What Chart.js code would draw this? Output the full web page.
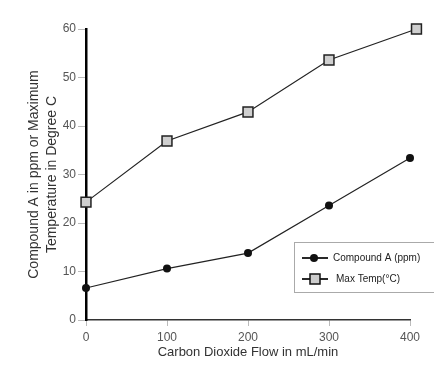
<!DOCTYPE html>
<html>
<head>
<meta charset="utf-8">
<script src="https://cdn.jsdelivr.net/npm/chart.js@4.4.0/dist/chart.umd.min.js"></script>
<style>
  html, body { margin: 0; padding: 0; background: #fff; }
  #wrap { width: 434px; height: 367px; position: relative; }
</style>
</head>
<body>
<div id="wrap"><canvas id="myChart" width="434" height="367"></canvas></div>
<script>
// values
var flowX = [0, 100, 200, 300, 400];
var compoundA = [6.6, 10.6, 13.8, 23.6, 33.4];
var tempX = [0, 100, 200, 300, 408];
var maxTemp = [24.3, 36.9, 42.9, 53.6, 60];
var xTicks = [0, 100, 200, 300, 400];
var yTicks = [0, 10, 20, 30, 40, 50, 60];
var seriesNames = ['Compound A (ppm)', 'Max Temp(\u00B0C)'];

const FONT = "'Liberation Sans', Arial, sans-serif";

function toXY(xs, ys) {
    let out = [];
    for (let i = 0; i < xs.length; i++) {
        out.push({ x: xs[i], y: ys[i] });
    }
    return out;
}

// legend box drawn inside the plot, lower right
const boxLegend = {
    id: 'boxLegend',
    afterDraw(chart) {
        const ctx = chart.ctx;
        ctx.save();
        ctx.strokeStyle = '#aaa';
        ctx.lineWidth = 1;
        ctx.strokeRect(294.5, 242.5, 150, 50);
        const rows = [258, 279];
        ctx.font = '10px ' + FONT;
        ctx.textBaseline = 'middle';
        for (let i = 0; i < rows.length; i++) {
            let y = rows[i];
            ctx.strokeStyle = '#111';
            ctx.lineWidth = 1.8;
            ctx.beginPath();
            ctx.moveTo(302, y);
            ctx.lineTo(328, y);
            ctx.stroke();
            if (i === 0) {
                ctx.fillStyle = '#111';
                ctx.beginPath();
                ctx.arc(314, y, 4, 0, Math.PI * 2);
                ctx.fill();
            } else {
                ctx.fillStyle = '#ccc';
                ctx.fillRect(310, y - 5, 10, 10);
                ctx.lineWidth = 1.5;
                ctx.strokeRect(310, y - 5, 10, 10);
            }
            ctx.fillStyle = '#222';
            ctx.fillText(seriesNames[i], i === 0 ? 333 : 336, y);
        }
        ctx.restore();
    }
};

const ctx = document.getElementById('myChart').getContext('2d');
var myChart = new Chart(ctx, {
    type: 'line',
    data: {
        datasets: [
            {
                label: seriesNames[0],
                data: toXY(flowX, compoundA),
                borderColor: '#222',
                borderWidth: 1.2,
                backgroundColor: '#111',
                pointStyle: 'circle',
                pointRadius: 4,
                pointBorderWidth: 0,
                tension: 0,
                clip: false
            },
            {
                label: seriesNames[1],
                data: toXY(tempX, maxTemp),
                borderColor: '#222',
                borderWidth: 1.2,
                backgroundColor: '#cfcfcf',
                pointBackgroundColor: '#cfcfcf',
                pointBorderColor: '#222',
                pointStyle: 'rect',
                pointRadius: 7,
                pointBorderWidth: 1.5,
                tension: 0,
                clip: false
            }
        ]
    },
    options: {
        responsive: false,
        animation: false,
        layout: { padding: { top: 29, right: 24, left: 0, bottom: 0 } },
        plugins: {
            legend: { display: false },
            tooltip: { enabled: false }
        },
        scales: {
            x: {
                type: 'linear',
                min: 0,
                max: 400,
                afterBuildTicks: (s) => { s.ticks = xTicks.map(v => ({ value: v })); },
                afterFit: (s) => { s.height = 47; },
                border: { display: true, color: '#333', width: 1.5 },
                grid: { drawOnChartArea: false, color: '#bbb', tickLength: 6 },
                ticks: { color: '#555', font: { family: FONT, size: 12 }, padding: 4 },
                title: {
                    display: true,
                    text: 'Carbon Dioxide Flow in mL/min',
                    color: '#333',
                    font: { family: FONT, size: 13 },
                    padding: { top: 0, bottom: 7 }
                }
            },
            y: {
                min: 0,
                max: 60,
                afterBuildTicks: (s) => { s.ticks = yTicks.map(v => ({ value: v })); },
                afterFit: (s) => { s.width = 86; },
                border: { display: true, color: '#000', width: 2.5 },
                grid: { drawOnChartArea: false, color: '#bbb', tickLength: 8 },
                ticks: { color: '#555', font: { family: FONT, size: 12 }, padding: 2 },
                title: {
                    display: true,
                    text: ['Compound A in ppm or Maximum', 'Temperature in Degree C'],
                    color: '#333',
                    font: { family: FONT, size: 14, lineHeight: 1.3 },
                    padding: { top: 25, bottom: 0 }
                }
            }
        }
    },
    plugins: [boxLegend]
});
</script>
</body>
</html>
